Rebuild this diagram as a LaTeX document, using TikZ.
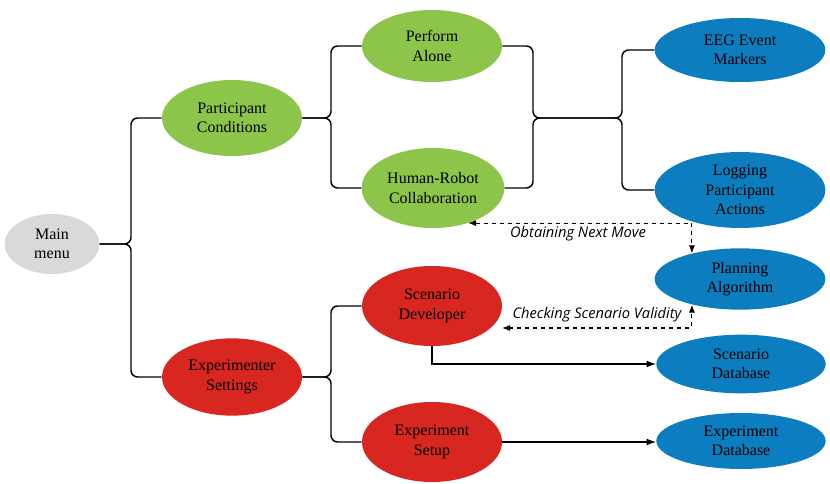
\documentclass[tikz,border=0pt]{standalone}
\usepackage{fontspec}
\setmainfont{Liberation Serif}
\newfontfamily\menufont{Liberation Serif}
\newfontfamily\queryfont{Open Sans}
\usetikzlibrary{shapes.geometric}
\usetikzlibrary{arrows.meta}

\definecolor{menuGray}{RGB}{217,217,217}
\definecolor{condGreen}{RGB}{141,196,74}
\definecolor{setRed}{RGB}{216,39,33}
\definecolor{outBlue}{RGB}{12,125,190}

\begin{document}
\begin{tikzpicture}[%%
  x=0.75pt,y=-0.75pt,%%
  menuStyle/.style={ellipse,draw=none,inner sep=0pt,align=center,%%
    font=\menufont\fontsize{12}{14.5}\selectfont},%%
  mainStyle/.style={menuStyle,fill=menuGray,minimum width=71pt,minimum height=45pt},%%
  greenStyle/.style={menuStyle,fill=condGreen,minimum width=105pt,minimum height=57pt},%%
  redStyle/.style={menuStyle,fill=setRed,minimum width=105pt,minimum height=60pt},%%
  blueStyle/.style={menuStyle,fill=outBlue,minimum width=128pt,minimum height=46pt},%%
  braceStyle/.style={-,line width=1.1pt,rounded corners=5pt},%%
  linkStyle/.style={-{Latex[length=7pt,width=5pt]},line width=0.8pt},%%
  queryStyle/.style={{Latex[length=6pt,width=4.5pt]}-{Latex[length=6pt,width=4.5pt]},%%
    dashed,line width=0.8pt},%%
  queryLabel/.style={font=\queryfont\itshape\fontsize{11}{13}\selectfont}%%
]
%%
\useasboundingbox (0,0) rectangle (830,484);
%%
%% Fork positions of the braces.
\pgfmathsetmacro{\xmain}{131}
\pgfmathsetmacro{\xsub}{331}
\pgfmathsetmacro{\xleft}{533}
\pgfmathsetmacro{\xright}{622}
%%
%% The menu tree.
\node[mainStyle] (mainMenu) at (52,244) {Main\\menu};
\node[greenStyle] (partCond) at (232,118) {Participant\\Conditions};
\node[redStyle,minimum height=58pt] (expSet) at (232,377) {Experimenter\\Settings};
%%
\node[greenStyle,minimum height=54pt] (alone) at (432,46) {Perform\\Alone};
\node[greenStyle,minimum width=107pt,minimum height=60pt] (hrc) at (433,188) {Human-Robot\\Collaboration};
\node[redStyle] (scDev) at (432,306) {Scenario\\Developer};
\node[redStyle] (expSetup) at (432,442) {Experiment\\Setup};
%%
\node[blueStyle,minimum height=48pt] (eeg) at (740,50) {EEG Event\\Markers};
\node[blueStyle,minimum height=57pt] (logging) at (740,190) {Logging\\Participant\\Actions};
\node[blueStyle] (planning) at (740,279) {Planning\\Algorithm};
\node[blueStyle,minimum width=127pt,minimum height=44pt] (scDb) at (741,364) {Scenario\\Database};
\node[blueStyle,minimum width=127pt,minimum height=42pt] (expDb) at (741,441) {Experiment\\Database};
%%
%% Braces from the main menu.
\coordinate (mainFork) at (\xmain,244);
\draw[braceStyle] (mainMenu.east) -- (mainFork) |- (partCond.west);
\draw[braceStyle] (mainMenu.east) -- (mainFork) |- (expSet.west);
%%
%% Braces of the two sub menus.
\coordinate (condFork) at (\xsub,118);
\draw[braceStyle] (partCond.east) -- (condFork) |- (alone.west);
\draw[braceStyle] (partCond.east) -- (condFork) |- (hrc.west);
\coordinate (setFork) at (\xsub,377);
\draw[braceStyle] (expSet.east) -- (setFork) |- (scDev.west);
\draw[braceStyle] (expSet.east) -- (setFork) |- (expSetup.west);
%%
%% Both conditions feed the recorded data.
\coordinate (leftJoin) at (\xleft,118);
\coordinate (rightJoin) at (\xright,118);
\draw[braceStyle] (alone.east) -| (leftJoin) -- (rightJoin) |- (eeg.west);
\draw[braceStyle] (hrc.east) -| (leftJoin) -- (rightJoin) |- (logging.west);
%%
%% Queries to the planner.
\draw[queryStyle] (hrc.-45) -| (planning.152);
\node[queryLabel] (nextLabel) at (578,234) {Obtaining Next Move};
\coordinate (checkEnd) at (502,328);
\draw[queryStyle] (checkEnd) -| (planning.-152);
\node[queryLabel] (checkLabel) at (597,315) {Checking Scenario Validity};
%%
%% Storage.
\draw[linkStyle] (scDev.south) |- (scDb.west);
\draw[linkStyle] (expSetup.east) -- (expDb.west |- expSetup.east);
\end{tikzpicture}
\end{document}
